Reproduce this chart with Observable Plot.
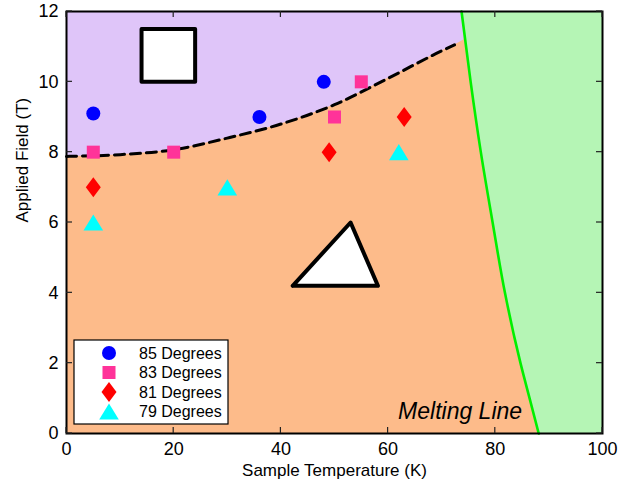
<!DOCTYPE html>
<html><head><meta charset="utf-8">
<script src="https://cdn.jsdelivr.net/npm/d3@7"></script>
<script src="https://cdn.jsdelivr.net/npm/@observablehq/plot@0.6"></script>
<style>
body{margin:0;background:#fff;}
#chart{position:relative;width:619px;height:487px;}
</style></head><body><div id="chart"></div>
<script>
// ---- data ----
const seriesNames = ["85 Degrees", "83 Degrees", "81 Degrees", "79 Degrees"];
const seriesColors = ["#0000ff", "#ff3399", "#ff0000", "#00ffff"];
const temp85 = [5, 36, 48];        const field85 = [9.1, 9.0, 10.0];
const temp83 = [5, 20, 50, 55];    const field83 = [8.0, 8.0, 9.0, 10.0];
const temp81 = [5, 49, 63];        const field81 = [7.0, 8.0, 9.0];
const temp79 = [5, 30, 62];        const field79 = [6.0, 7.0, 8.0];
// dashed boundary
const dashTemp  = [0, 10, 20, 30, 40, 50, 60, 70, 72.4];
const dashField = [7.88, 7.93, 8.07, 8.4, 8.8, 9.35, 10.1, 10.88, 11.05];
// where the purple/orange boundary meets the melting line
const boundaryEnd = {temp: 74.2, field: 11.2};
// melting line
const meltTemp  = [73.7, 75.4, 77.3, 79.5, 81.8, 84.7, 86.4, 88.1];
const meltField = [12, 10, 8, 6, 4, 2, 1, 0];
// annotation shapes
const squareTemp = [14, 24, 24, 14, 14];
const squareField = [10, 10, 11.5, 11.5, 10];
const triTemp = [42.2, 53, 58.1, 42.2];
const triField = [4.2, 6, 4.2, 4.2];
const xTicks = [0, 20, 40, 60, 80, 100];
const yTicks = [0, 2, 4, 6, 8, 10, 12];
const xDomain = [0, 100], yDomain = [0, 12];
const meltLabel = {temp: 85, field: 0.62, text: "Melting Line"};

(function () {
const zip = (xs, ys) => xs.map((x, i) => ({x, y: ys[i]}));

// ---- custom marker symbols ----
const symCircle = {draw(c, s){ const r = Math.sqrt(s/Math.PI); c.moveTo(r,0); c.arc(0,0,r,0,2*Math.PI); c.closePath(); }};
const symSquare = {draw(c, s){ const r = Math.sqrt(s/Math.PI)*0.93; c.moveTo(-r,-r); c.lineTo(r,-r); c.lineTo(r,r); c.lineTo(-r,r); c.closePath(); }};
const symDiamond = {draw(c, s){ const r = Math.sqrt(s/Math.PI); const w=r*1.07, h=r*1.43; c.moveTo(0,-h); c.lineTo(w,0); c.lineTo(0,h); c.lineTo(-w,0); c.closePath(); }};
const symTriangle = {draw(c, s){ const r = Math.sqrt(s/Math.PI); const h=r*1.15, w=r*1.4; c.moveTo(0,-h); c.lineTo(w,h); c.lineTo(-w,h); c.closePath(); }};
const symbols = [symCircle, symSquare, symDiamond, symTriangle];
const seriesData = [zip(temp85, field85), zip(temp83, field83), zip(temp81, field81), zip(temp79, field79)];

const W = 619, H = 487, mL = 66, mR = 17, mT = 11, mB = 54, TL = 6;

const dash = zip(dashTemp, dashField);
const melt = zip(meltTemp, meltField);
const purpleEdge = [...dash, {x: boundaryEnd.temp, y: boundaryEnd.field}];

const font = "'Liberation Sans', Arial, Helvetica, sans-serif";

const plot = Plot.plot({
  width: W, height: H,
  marginLeft: mL, marginRight: mR, marginTop: mT, marginBottom: mB,
  x: {domain: xDomain},
  y: {domain: yDomain},
  style: {fontFamily: font, fontSize: "18px", color: "black", background: "white"},
  marks: [
    Plot.frame({fill: "#fdbb8a", stroke: null}),
    Plot.areaY(purpleEdge, {x: "x", y1: "y", y2: yDomain[1], fill: "#dfc5f9", curve: "monotone-x"}),
    Plot.areaX(melt, {y: "y", x1: "x", x2: xDomain[1], fill: "#b5f5b5", curve: "monotone-y"}),
    Plot.line(dash, {x: "x", y: "y", curve: "monotone-x", stroke: "black", strokeWidth: 3, strokeDasharray: "10,6"}),
    Plot.line(melt, {x: "x", y: "y", curve: "monotone-y", stroke: "#00f000", strokeWidth: 2.6}),
    Plot.line(zip(squareTemp, squareField), {x: "x", y: "y", fill: "white", stroke: "black", strokeWidth: 4, strokeLinejoin: "round"}),
    Plot.line(zip(triTemp, triField), {x: "x", y: "y", fill: "white", stroke: "black", strokeWidth: 4, strokeLinejoin: "round"}),
    ...seriesData.map((d, i) => Plot.dot(d, {x: "x", y: "y", r: 7, symbol: symbols[i], fill: seriesColors[i], stroke: null})),
    Plot.text([meltLabel], {x: "temp", y: "field", text: "text", textAnchor: "end", fontStyle: "italic", fontSize: 23, fill: "black"}),
    Plot.frame({stroke: "black", strokeWidth: 2}),
    Plot.axisX({anchor: "bottom", ticks: xTicks, tickSize: 0, tickPadding: 9, label: null}),
    Plot.axisY({anchor: "left", ticks: yTicks, tickSize: 0, tickPadding: 8, label: null}),
    Plot.text(["Sample Temperature (K)"], {frameAnchor: "bottom", dy: 42, fontSize: 17, fill: "black"}),
    Plot.text(["Applied Field (T)"], {frameAnchor: "left", dx: -44, rotate: -90, fontSize: 17, fill: "black"})
  ]
});

const svg = d3.select(plot);
// ---- inward ticks on all four sides, placed with the plot's own scales ----
const sx = plot.scale("x"), sy = plot.scale("y");
const yTop = sy.apply(yDomain[1]), yBottom = sy.apply(yDomain[0]);
const xLeft = sx.apply(xDomain[0]), xRight = sx.apply(xDomain[1]);
const tg = svg.append("g").attr("stroke", "#222").attr("stroke-width", 1.2);
xTicks.forEach(v => {
  const x = sx.apply(v);
  tg.append("line").attr("x1", x).attr("x2", x).attr("y1", yBottom).attr("y2", yBottom - TL);
  tg.append("line").attr("x1", x).attr("x2", x).attr("y1", yTop).attr("y2", yTop + TL);
});
yTicks.forEach(v => {
  const y = sy.apply(v);
  tg.append("line").attr("y1", y).attr("y2", y).attr("x1", xLeft).attr("x2", xLeft + TL);
  tg.append("line").attr("y1", y).attr("y2", y).attr("x1", xRight).attr("x2", xRight - TL);
});

// ---- legend (layout in pixels) ----
const lg = svg.append("g").attr("transform", "translate(74,340)");
lg.append("rect").attr("width", 154).attr("height", 84).attr("fill", "white").attr("stroke", "black").attr("stroke-width", 1.2);
seriesNames.forEach((name, i) => {
  const y = 13 + i * 19.5;
  const p = d3.path();
  symbols[i].draw(p, Math.PI * 49);
  lg.append("path").attr("d", p.toString()).attr("transform", `translate(35,${y})`).attr("fill", seriesColors[i]);
  lg.append("text").attr("x", 65).attr("y", y).attr("dy", "0.35em").attr("text-anchor", "start")
    .attr("font-size", 16).attr("fill", "black").text(name);
});

document.getElementById("chart").appendChild(plot);
})();
</script></body></html>
